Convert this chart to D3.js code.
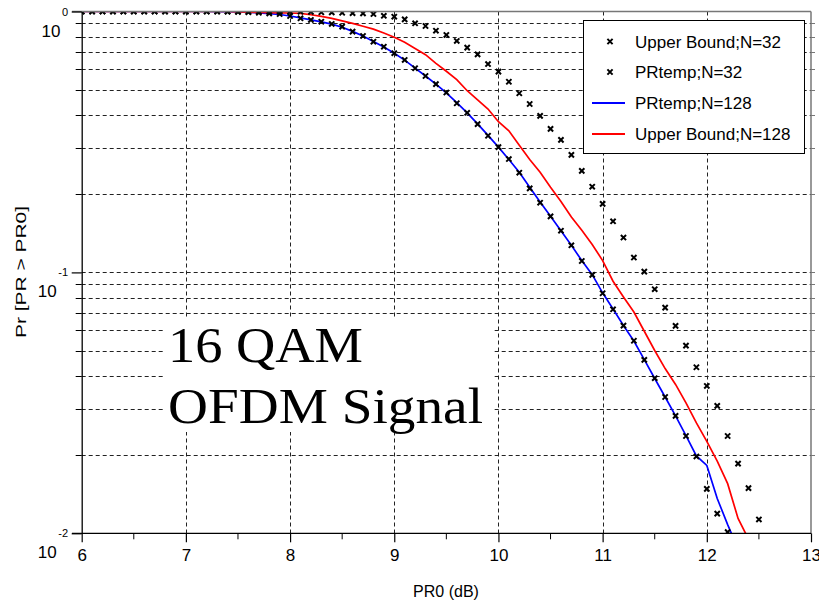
<!DOCTYPE html>
<html>
<head>
<meta charset="utf-8">
<script src="https://cdn.jsdelivr.net/npm/d3@7"></script>
<style>
  html, body { margin: 0; padding: 0; background: #fff; }
  svg { display: block; font-family: "Liberation Sans", Arial, sans-serif; }
</style>
</head>
<body>
<svg id="chart" width="819" height="603"></svg>
<script>
// PR0 grid in dB (0.1 dB steps)
const dbGrid = [6.0,6.1,6.2,6.3,6.4,6.5,6.6,6.7,6.8,6.9,
  7.0,7.1,7.2,7.3,7.4,7.5,7.6,7.7,7.8,7.9,
  8.0,8.1,8.2,8.3,8.4,8.5,8.6,8.7,8.8,8.9,
  9.0,9.1,9.2,9.3,9.4,9.5,9.6,9.7,9.8,9.9,
  10.0,10.1,10.2,10.3,10.4,10.5,10.6,10.7,10.8,10.9,
  11.0,11.1,11.2,11.3,11.4,11.5,11.6,11.7,11.8,11.9,
  12.0,12.1,12.2,12.3,12.4,12.5];

// Upper Bound; N=32 (markers), 6.0 .. 12.5 dB
const upper32 = [1,1,1,1,1,1,1,1,1,1,
  1,1,1,1,1,1,1,1,0.999,0.999,
  0.999,0.998,0.997,0.993,0.992,0.989,0.986,0.983,0.978,0.963,
  0.955,0.933,0.901,0.880,0.844,0.813,0.771,0.727,0.685,0.629,
  0.588,0.538,0.486,0.442,0.398,0.355,0.322,0.282,0.245,0.213,
  0.183,0.157,0.136,0.114,0.1007,0.0862,0.0733,0.0624,0.0524,0.0433,
  0.0367,0.0308,0.0236,0.0185,0.0149,0.0113];

// PRtemp; N=32 (markers), 6.0 .. 12.2 dB
const prtemp32 = [1,1,1,1,1,1,1,1,1,1,
  1,1,1,1,0.998,0.996,0.993,0.989,0.984,0.978,
  0.961,0.942,0.928,0.914,0.896,0.875,0.837,0.806,0.766,0.733,
  0.692,0.652,0.606,0.566,0.527,0.489,0.445,0.409,0.370,0.334,
  0.302,0.272,0.241,0.210,0.185,0.164,0.1445,0.127,0.1106,0.0978,
  0.0832,0.0722,0.0625,0.0547,0.0462,0.0393,0.0333,0.0282,0.0236,0.0197,
  0.0148,0.0119,0.0101];

// PRtemp; N=128 (blue line), 6.0 .. 12.3 dB
const prtemp128 = [1,1,1,1,1,1,1,1,1,1,
  1,1,1,0.999,0.998,0.996,0.993,0.988,0.982,0.974,
  0.961,0.945,0.929,0.912,0.894,0.870,0.839,0.805,0.768,0.731,
  0.692,0.651,0.607,0.566,0.527,0.488,0.447,0.409,0.371,0.335,
  0.302,0.271,0.242,0.212,0.186,0.164,0.1445,0.127,0.111,0.098,
  0.0835,0.0724,0.0626,0.0546,0.0463,0.0392,0.0333,0.0282,0.0237,0.0198,
  0.0182,0.0136,0.0108,0.0087];

// Upper Bound; N=128 (red line), 6.0 .. 12.4 dB
const upper128 = [1,1,1,1,1,1,1,1,1,1,
  1,1,1,1,1,0.997,0.994,0.991,0.989,0.988,
  0.987,0.984,0.972,0.958,0.941,0.921,0.901,0.878,0.856,0.827,
  0.797,0.762,0.722,0.683,0.633,0.590,0.548,0.497,0.458,0.423,
  0.378,0.349,0.307,0.271,0.242,0.212,0.187,0.163,0.145,0.128,
  0.111,0.0925,0.0805,0.0705,0.0595,0.0502,0.0428,0.0372,0.0316,0.0265,
  0.0225,0.0189,0.0155,0.0114,0.0095];

const xTicks = [6,7,8,9,10,11,12,13];
const xMinorTicks = [6.5,7.5,8.5,9.5,10.5,11.5,12.5];
const yDecades = [1, 0.1, 0.01];
const yDecadeExp = ["0", "-1", "-2"];
const legendLabels = ["Upper Bound;N=32", "PRtemp;N=32", "PRtemp;N=128", "Upper Bound;N=128"];
const noteLines = ["16 QAM", "OFDM Signal"];

const svg = d3.select("#chart");
const L = 81.7, R = 811, T = 11.5, B = 533.3;

const x = d3.scaleLinear().domain([6, 13]).range([L, R]);
const y = d3.scaleLog().domain([0.01, 1]).range([B, T]);

// minor log grid values (2..9 in each decade)
const yMinor = [];
[0.01, 0.1].forEach(d => { for (let k = 2; k <= 9; k++) yMinor.push(+(d * k).toPrecision(3)); });
const yGridVals = yMinor.concat([0.1]);

svg.append("rect").attr("width", 819).attr("height", 603).attr("fill", "#fff");

svg.append("clipPath").attr("id", "plotClip")
  .append("rect").attr("x", L).attr("y", T).attr("width", R - L).attr("height", B - T);

// grid
const grid = svg.append("g").attr("stroke", "#222").attr("stroke-width", 1)
  .attr("stroke-dasharray", "4,3").attr("fill", "none");
grid.selectAll("line.h").data(yGridVals).join("line")
  .attr("x1", L).attr("x2", R)
  .attr("y1", d => Math.round(y(d)) + 0.5).attr("y2", d => Math.round(y(d)) + 0.5);
grid.selectAll("line.v").data(xTicks.slice(1, -1)).join("line")
  .attr("x1", d => Math.round(x(d)) + 0.5).attr("x2", d => Math.round(x(d)) + 0.5)
  .attr("y1", T).attr("y2", B);

const plot = svg.append("g").attr("clip-path", "url(#plotClip)");

const line = d3.line().x(d => x(d[0])).y(d => y(d[1]));
const pairs = vals => vals.map((v, i) => [dbGrid[i], v]);

plot.append("path").datum(pairs(prtemp128)).attr("d", line)
  .attr("fill", "none").attr("stroke", "#0000ff").attr("stroke-width", 1.7);
plot.append("path").datum(pairs(upper128)).attr("d", line)
  .attr("fill", "none").attr("stroke", "#ff0000").attr("stroke-width", 1.7);

const cross = s => `M${-s},${-s}L${s},${s}M${-s},${s}L${s},${-s}`;
[upper32, prtemp32].forEach(vals => {
  plot.append("g").selectAll("path").data(pairs(vals)).join("path")
    .attr("transform", d => `translate(${x(d[0])},${y(d[1])})`)
    .attr("d", cross(2.6))
    .attr("stroke", "#000").attr("stroke-width", 2).attr("fill", "none");
});

// legend
const lg = svg.append("g");
lg.append("rect").attr("x", 583.5).attr("y", 20.5).attr("width", 221).attr("height", 133)
  .attr("fill", "#fff").attr("stroke", "#000").attr("stroke-width", 1);
const rowY = [41.5, 72, 103, 134];
legendLabels.forEach((lab, i) => {
  const cy = rowY[i];
  if (i < 2) {
    lg.append("path").attr("transform", `translate(610,${cy})`).attr("d", cross(2.6))
      .attr("stroke", "#000").attr("stroke-width", 2).attr("fill", "none");
  } else {
    lg.append("line").attr("x1", 592).attr("x2", 625).attr("y1", cy).attr("y2", cy)
      .attr("stroke", i === 2 ? "#0000ff" : "#ff0000").attr("stroke-width", 2);
  }
  lg.append("text").attr("x", 635).attr("y", cy + 6).attr("font-size", 17)
    .attr("fill", "#000").text(lab);
});

// annotation box
const note = svg.append("g");
note.append("rect").attr("x", 165).attr("y", 318).attr("width", 328).attr("height", 114).attr("fill", "#fff");
const noteY = [362, 423], noteW = [195, 315];
noteLines.forEach((t, i) => {
  note.append("text").attr("x", 168).attr("y", noteY[i])
    .attr("font-family", "'Liberation Serif', 'DejaVu Serif', serif")
    .attr("font-size", 51).attr("fill", "#000")
    .attr("textLength", noteW[i]).attr("lengthAdjust", "spacingAndGlyphs")
    .text(t);
});

// frame: top and right in grey
svg.append("line").attr("x1", 72).attr("x2", R).attr("y1", T).attr("y2", T)
  .attr("stroke", "#777").attr("stroke-width", 1.6);
svg.append("line").attr("x1", R).attr("x2", R).attr("y1", T).attr("y2", B)
  .attr("stroke", "#777").attr("stroke-width", 1.5);
svg.append("g").selectAll("line").data(yGridVals).join("line")
  .attr("x1", R).attr("x2", R + 4)
  .attr("y1", d => Math.round(y(d)) + 0.5).attr("y2", d => Math.round(y(d)) + 0.5)
  .attr("stroke", "#777").attr("stroke-width", 1);

// x axis
const xAxis = svg.append("g").attr("transform", `translate(0,${B})`)
  .call(d3.axisBottom(x).tickValues(xTicks).tickSize(9).tickSizeOuter(0).tickPadding(7)
    .tickFormat(d3.format("d")));
xAxis.select(".domain").attr("stroke", "#000").attr("stroke-width", 1.3)
  .attr("d", `M${72},0H${R}`);
xAxis.selectAll(".tick line").attr("stroke", "#000").attr("stroke-width", 1.2);
xAxis.selectAll(".tick text").attr("font-size", 17).attr("fill", "#000")
  .attr("font-family", "'Liberation Sans', Arial, sans-serif");
svg.append("g").attr("transform", `translate(0,${B})`).selectAll("line").data(xMinorTicks).join("line")
  .attr("x1", d => x(d)).attr("x2", d => x(d)).attr("y1", 0).attr("y2", 6)
  .attr("stroke", "#000").attr("stroke-width", 1);

// y axis
const yAxis = svg.append("g").attr("transform", `translate(${L},0)`)
  .call(d3.axisLeft(y).tickValues(yDecades).tickSize(10).tickSizeOuter(0).tickFormat(""));
yAxis.select(".domain").attr("stroke", "#000").attr("stroke-width", 1.3);
yAxis.selectAll(".tick line").attr("stroke", "#000").attr("stroke-width", 1.2);
svg.append("g").selectAll("line").data(yMinor).join("line")
  .attr("x1", L - 6).attr("x2", L)
  .attr("y1", d => Math.round(y(d)) + 0.5).attr("y2", d => Math.round(y(d)) + 0.5)
  .attr("stroke", "#000").attr("stroke-width", 1);

// decade labels: "10" with the exponent raised beside it
yDecades.forEach((d, i) => {
  const ty = y(d);
  const sup = svg.append("text").attr("x", 68).attr("y", ty + 4)
    .attr("text-anchor", "end").attr("font-size", 11).attr("fill", "#000").text(yDecadeExp[i]);
  const w = sup.node().getComputedTextLength();
  svg.append("text").attr("x", 68 - w - 1.5).attr("y", ty + 25)
    .attr("text-anchor", "end").attr("font-size", 17).attr("fill", "#000").text("10");
});

// axis titles
svg.append("text").attr("x", 446).attr("y", 597).attr("text-anchor", "middle")
  .attr("font-size", 16).attr("fill", "#000").text("PR0 (dB)");
svg.append("text").attr("transform", "translate(26,272) rotate(-90)")
  .attr("text-anchor", "middle").attr("font-size", 14).attr("fill", "#000")
  .attr("textLength", 132).attr("lengthAdjust", "spacingAndGlyphs")
  .text("Pr [PR > PR0]");
</script>
</body>
</html>
